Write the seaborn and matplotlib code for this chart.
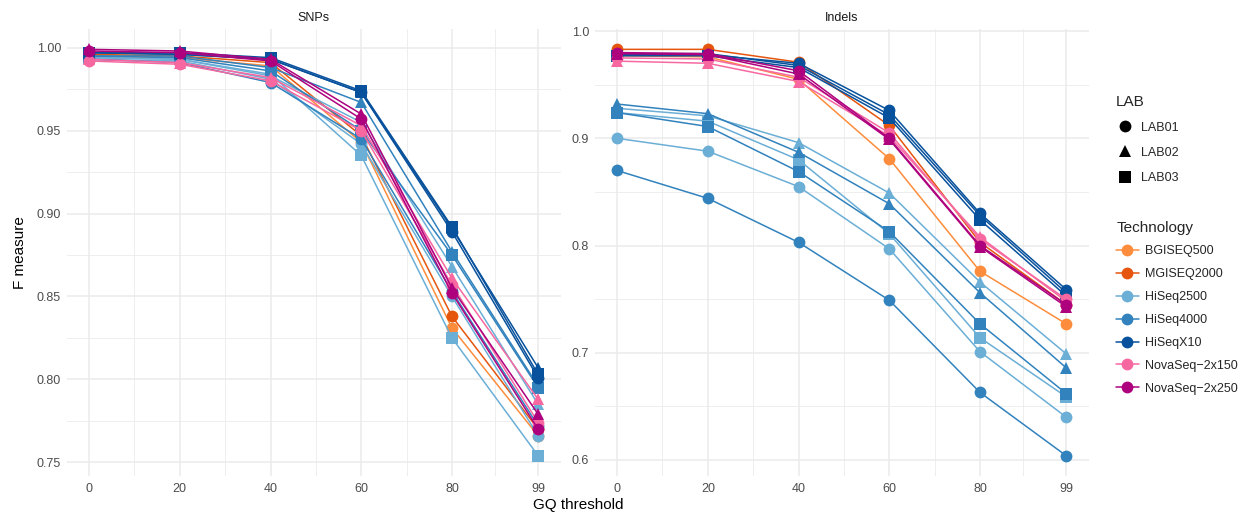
import numpy as np
import pandas as pd
import seaborn as sns
import matplotlib
matplotlib.use("Agg")
import matplotlib.pyplot as plt
from matplotlib.lines import Line2D

sns.set_theme(style="white")
plt.rcParams["font.family"] = ["Liberation Sans", "DejaVu Sans"]

# ---------------- data ----------------
thresholds = [0, 20, 40, 60, 80, 99]
technologies = ["BGISEQ500", "MGISEQ2000", "HiSeq2500", "HiSeq4000",
                "HiSeqX10", "NovaSeq\u22122x150", "NovaSeq\u22122x250"]
tech_colors = ["#fd8d3c", "#e6550d", "#6baed6", "#3182bd",
               "#08519c", "#f768a1", "#ae017e"]
labs = ["LAB01", "LAB02", "LAB03"]
lab_markers = ["o", "^", "s"]

combo_tech = ["BGISEQ500", "MGISEQ2000",
              "HiSeq2500", "HiSeq2500", "HiSeq2500",
              "HiSeq4000", "HiSeq4000", "HiSeq4000",
              "HiSeqX10", "HiSeqX10", "HiSeqX10",
              "NovaSeq\u22122x150", "NovaSeq\u22122x150",
              "NovaSeq\u22122x250", "NovaSeq\u22122x250"]
combo_lab = ["LAB01", "LAB01",
             "LAB01", "LAB02", "LAB03",
             "LAB01", "LAB02", "LAB03",
             "LAB01", "LAB02", "LAB03",
             "LAB01", "LAB02",
             "LAB01", "LAB02"]

snps_values = [
    [0.995, 0.994, 0.989, 0.943, 0.831, 0.766],
    [0.996, 0.995, 0.991, 0.947, 0.838, 0.770],
    [0.993, 0.992, 0.981, 0.942, 0.850, 0.766],
    [0.994, 0.993, 0.983, 0.955, 0.868, 0.785],
    [0.994, 0.993, 0.984, 0.935, 0.825, 0.754],
    [0.993, 0.991, 0.979, 0.945, 0.853, 0.772],
    [0.995, 0.995, 0.988, 0.967, 0.877, 0.796],
    [0.995, 0.994, 0.986, 0.950, 0.875, 0.795],
    [0.997, 0.996, 0.993, 0.973, 0.889, 0.801],
    [0.997, 0.996, 0.993, 0.973, 0.891, 0.807],
    [0.997, 0.997, 0.994, 0.974, 0.892, 0.803],
    [0.992, 0.990, 0.980, 0.950, 0.857, 0.774],
    [0.993, 0.991, 0.982, 0.953, 0.861, 0.788],
    [0.998, 0.997, 0.992, 0.957, 0.852, 0.770],
    [0.999, 0.998, 0.993, 0.960, 0.855, 0.779],
]

indels_values = [
    [0.977, 0.976, 0.955, 0.881, 0.776, 0.727],
    [0.983, 0.983, 0.971, 0.912, 0.803, 0.745],
    [0.900, 0.888, 0.855, 0.797, 0.701, 0.640],
    [0.928, 0.921, 0.896, 0.849, 0.766, 0.699],
    [0.924, 0.916, 0.880, 0.811, 0.714, 0.659],
    [0.870, 0.844, 0.803, 0.749, 0.663, 0.604],
    [0.932, 0.923, 0.887, 0.839, 0.756, 0.686],
    [0.924, 0.911, 0.869, 0.813, 0.727, 0.662],
    [0.978, 0.978, 0.970, 0.926, 0.830, 0.759],
    [0.979, 0.979, 0.968, 0.922, 0.828, 0.756],
    [0.977, 0.977, 0.966, 0.919, 0.824, 0.753],
    [0.975, 0.974, 0.957, 0.905, 0.806, 0.750],
    [0.972, 0.970, 0.953, 0.902, 0.808, 0.748],
    [0.980, 0.979, 0.963, 0.900, 0.800, 0.745],
    [0.979, 0.978, 0.960, 0.899, 0.799, 0.743],
]

snp_yticks = [0.75, 0.80, 0.85, 0.90, 0.95, 1.00]
indel_yticks = [0.6, 0.7, 0.8, 0.9, 1.0]

# ---------------- build long table ----------------
rows = []
for panel, vals in (("SNPs", snps_values), ("Indels", indels_values)):
    for t, l, series in zip(combo_tech, combo_lab, vals):
        for gq, v in zip(thresholds, series):
            rows.append({"Type": panel, "Technology": t, "LAB": l, "GQ": gq, "F": v})
df = pd.DataFrame(rows)

palette = dict(zip(technologies, tech_colors))
markers = dict(zip(labs, lab_markers))

# ---------------- figure ----------------
fig = plt.figure(figsize=(12.43, 5.12), dpi=100)
fig.patch.set_facecolor("white")
ax1 = fig.add_axes([0.0536, 0.0703, 0.3974, 0.873])
ax2 = fig.add_axes([0.4784, 0.0703, 0.3974, 0.873])

grid_c = "#ebebeb"
for ax, panel, yt, fmt in ((ax1, "SNPs", snp_yticks, "{:.2f}"),
                           (ax2, "Indels", indel_yticks, "{:.1f}")):
    sub = df[df["Type"] == panel]
    sns.lineplot(data=sub, x="GQ", y="F", hue="Technology", style="LAB",
                 hue_order=technologies, style_order=labs,
                 palette=palette, markers=markers, dashes=False,
                 estimator=None, sort=False, legend=False,
                 linewidth=1.1, markersize=8.5, markeredgewidth=0, ax=ax)
    ax.set_facecolor("white")
    for s in ax.spines.values():
        s.set_visible(False)
    ax.set_xlim(-4.95, 103.95)
    lo, hi = sub["F"].min(), sub["F"].max()
    pad = (hi - lo) * 0.05
    ax.set_ylim(lo - pad, hi + pad)
    ax.set_xticks(thresholds)
    ax.set_xticklabels([str(t) for t in thresholds])
    ax.set_xticks([10, 30, 50, 70, 89.5], minor=True)
    ax.set_yticks(yt)
    ax.set_yticklabels([fmt.format(v) for v in yt])
    ax.set_yticks([(a + b) / 2 for a, b in zip(yt[:-1], yt[1:])], minor=True)
    ax.grid(True, which="major", color=grid_c, linewidth=1.1)
    ax.grid(True, which="minor", color=grid_c, linewidth=0.6)
    ax.set_axisbelow(True)
    ax.tick_params(axis="both", which="both", length=0, labelsize=9,
                   labelcolor="#4d4d4d", pad=4)
    ax.tick_params(axis="x", pad=5)
    ax.set_xlabel("")
    ax.set_ylabel("")
    ax.set_title(panel, fontsize=9, color="#1a1a1a", pad=6)

fig.text(0.465, 0.013, "GQ threshold", ha="center", va="center",
         fontsize=11, color="black")
fig.text(0.016, 0.507, "F measure", ha="center", va="center",
         rotation=90, fontsize=11, color="black")

# ---------------- legends ----------------
lab_handles = [Line2D([], [], linestyle="none", marker=m, color="black",
                      markersize=8.5, markeredgewidth=0) for m in lab_markers]
leg1 = fig.legend(lab_handles, labs, title="LAB", loc="upper left",
                  bbox_to_anchor=(0.894, 0.825), frameon=False,
                  fontsize=9, title_fontsize=11, handlelength=1.4,
                  handletextpad=0.6, labelspacing=1.05, alignment="left",
                  borderaxespad=0)

tech_handles = [Line2D([], [], color=c, marker="o", markersize=8.5,
                       markeredgewidth=0, linewidth=1.1) for c in tech_colors]
leg2 = fig.legend(tech_handles, technologies, title="Technology",
                  loc="upper left", bbox_to_anchor=(0.894, 0.579),
                  frameon=False, fontsize=9, title_fontsize=11,
                  handlelength=1.8, handletextpad=0.5, labelspacing=0.87,
                  alignment="left", borderaxespad=0)

fig.savefig("out.png", dpi=100, facecolor="white")
